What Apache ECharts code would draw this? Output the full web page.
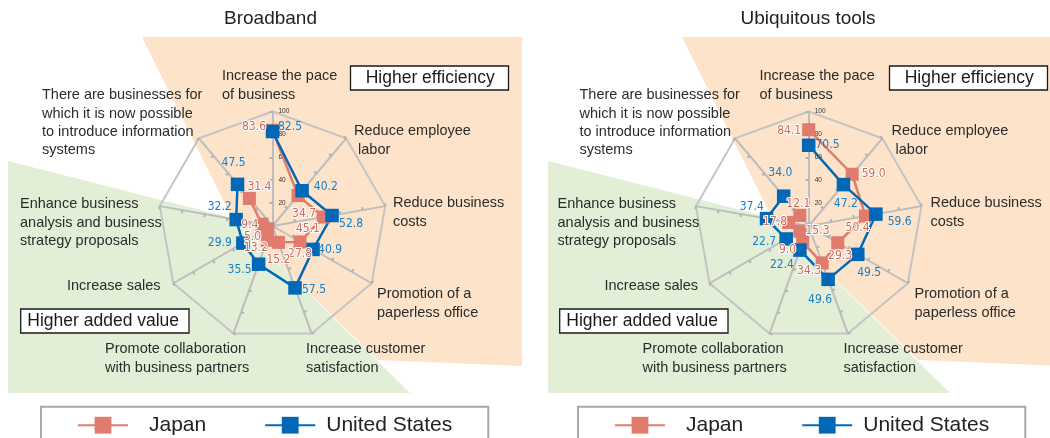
<!DOCTYPE html>
<html><head><meta charset="utf-8">
<script src="https://cdn.jsdelivr.net/npm/echarts@6/dist/echarts.min.js"></script>
<style>html,body{margin:0;padding:0;background:#fff}#c{width:1050px;height:438px}</style>
</head><body><div id="c"></div>
<script>
// ---------------- data ----------------
const categories = [
  'Increase the pace\nof business',
  'Reduce employee\n labor',
  'Reduce business\ncosts',
  'Promotion of a\npaperless office',
  'Increase customer\nsatisfaction',
  'Promote collaboration\nwith business partners',
  'Increase sales',
  'Enhance business\nanalysis and business\nstrategy proposals',
  'There are businesses for\nwhich it is now possible\nto introduce information\nsystems'
];
const panelTitles = ['Broadband', 'Ubiquitous tools'];
const seriesNames = ['Japan', 'United States'];
const broadbandJapan   = [83.6, 34.7, 45.1, 27.8, 15.2, 13.2, 5.0, 9.4, 31.4];
const broadbandUS      = [82.5, 40.2, 52.8, 40.9, 57.5, 35.5, 29.9, 32.2, 47.5];
const ubiquitousJapan  = [84.1, 59.0, 50.4, 29.3, 34.3, 15.3, 9.0, 17.8, 12.1];
const ubiquitousUS     = [70.5, 47.2, 59.6, 49.5, 49.6, 22.4, 22.7, 37.4, 34.0];
const axisTicks = [20, 40, 60, 80, 100];
const zoneLabels = ['Higher efficiency', 'Higher added value'];

// ---------------- layout / style ----------------
const FONT = '"Liberation Sans", Arial, Helvetica, sans-serif';
const NARROW = '"Liberation Sans Narrow", "Arial Narrow", "DejaVu Sans Condensed", "Liberation Sans", sans-serif';
const CENTERS = [[272.5, 226], [808.7, 226]];
const RADIUS = 114.5;
const TEXT_DX = [0, 537.5];
const BG_DX = [0, 540];
const BOX_DX = [0, 539];
const LEGEND_X = [41, 578];
const LEGEND_TEXT_PAD = [16, 6];
const NAME_POS = [[222,67],[354,122],[393,194],[377,285],[306,340],[105,340],[67,277],[20,195],[42,86]];
const LABEL_OFFSETS = [
  { japan: [[-18.5,-3.6],[6,18],[-15.5,12],[0,12],[0,17.6],[-11.5,8],[-15,8],[-12,1],[10,-11.5]],
    us:    [[17.5,-4.8],[23.7,-4],[19,8],[17,0.6],[19,2],[-19,6],[-23,0],[-16.5,-13],[-4,-21]] },
  { japan: [[-19.5,1.3],[21.6,0],[-8,12.3],[2.3,13],[-13,8],[14.8,-11.6],[-12.3,18.8],[-13.6,-0.8],[-1.5,-12]],
    us:    [[18.8,0],[2.4,19.6],[23.8,7.5],[11.4,18.5],[-8,20.6],[-18,15],[-22,2.7],[-14.8,-12],[-3.4,-23.4]] }
];
const COL = { jp:'#e07b6e', jpLabel:'#d0695c', us:'#0068b7', usLabel:'#1a7ec8',
  orange:'#fde3c9', green:'#e2efd6', axis:'#bdbdbd', text:'#2b2b2b' };

const panels = [
  { title: panelTitles[0], japan: broadbandJapan, us: broadbandUS },
  { title: panelTitles[1], japan: ubiquitousJapan, us: ubiquitousUS }
];

// ECharts places radar indicators counter-clockwise; reverse so categories read clockwise
const radarOrder = categories.map((c, i) => i === 0 ? 0 : categories.length - i);
const maxV = axisTicks[axisTicks.length - 1];

const radar = panels.map((p, k) => ({
  center: CENTERS[k], radius: RADIUS, startAngle: 90, shape: 'polygon',
  splitNumber: axisTicks.length,
  indicator: radarOrder.map(i => ({ name: categories[i], min: 0, max: maxV, axisLabel: { show: i === 0 } })),
  axisName: { show: false },
  axisLine: { lineStyle: { color: COL.axis, width: 2 } },
  axisTick: { show: true, length: 3, lineStyle: { color: '#b2b2b2', width: 2 } },
  axisLabel: { show: true, fontSize: 6.5, color: '#333', margin: -6, align: 'left', verticalAlign: 'middle',
    fontFamily: FONT, formatter: v => axisTicks.indexOf(Number(v)) >= 0 ? String(v) : '' },
  splitLine: { lineStyle: { color: ['rgba(0,0,0,0)','rgba(0,0,0,0)','rgba(0,0,0,0)','rgba(0,0,0,0)','rgba(0,0,0,0)','#c4c4c4'], width: 2 } },
  splitArea: { show: false }
}));

const polar = panels.map((p, k) => ({ center: CENTERS[k], radius: RADIUS }));
const angleAxis = panels.map((p, k) => ({ polarIndex: k, type: 'category', data: categories,
  startAngle: 90, clockwise: true, boundaryGap: false, show: false }));
const radiusAxis = panels.map((p, k) => ({ polarIndex: k, min: 0, max: maxV, show: false }));

function makeSeries(k, name, values, offsets, color, labelColor, size, halo) {
  const data = values.map((v, i) => ({ value: [v, i], label: { offset: offsets[i] } }));
  data.push({ value: [values[0], 0], symbol: 'none', label: { show: false } });
  return {
    type: 'line', name, coordinateSystem: 'polar', polarIndex: k, data,
    symbol: 'rect', symbolSize: size, showAllSymbol: true,
    lineStyle: { color, width: 2.5 }, itemStyle: { color },
    label: { show: true, position: 'inside', formatter: pr => Number(pr.value[0]).toFixed(1),
      fontFamily: NARROW, fontSize: 12, color: labelColor,
      textBorderColor: halo ? '#ffffff' : 'transparent', textBorderWidth: halo ? 2 : 0 },
    emphasis: { disabled: true }, animation: false
  };
}
const series = [];
panels.forEach((p, k) => {
  series.push(makeSeries(k, seriesNames[0], p.japan, LABEL_OFFSETS[k].japan, COL.jp, COL.jpLabel, 13, true));
  series.push(makeSeries(k, seriesNames[1], p.us, LABEL_OFFSETS[k].us, COL.us, COL.usLabel, 13.5, false));
});

const legend = panels.map((p, k) => ({
  data: seriesNames.map((n, j) => ({ name: n, textStyle: { padding: [0, 0, 0, LEGEND_TEXT_PAD[j]] } })),
  left: LEGEND_X[k], top: 406.7, orient: 'horizontal',
  itemWidth: 50, itemHeight: 21, itemGap: 58, selectedMode: false,
  borderColor: '#a8a8a8', borderWidth: 2, padding: [8, 36, 30, 36],
  textStyle: { fontSize: 21, color: '#222', fontFamily: FONT }
}));

// decorative zones, titles, category names, zone boxes
const shift = (pts, dx) => pts.map(q => [q[0] + dx, q[1]]);
const ORANGE = [[142,37],[522,37],[522,366],[378,360],[232,218]];
const GREEN = [[8,161],[232,218],[410,393],[8,393]];
const graphic = [];
panels.forEach((p, k) => {
  graphic.push({ type: 'polygon', z: -10, silent: true, shape: { points: shift(ORANGE, BG_DX[k]) }, style: { fill: COL.orange } });
  graphic.push({ type: 'polygon', z: -10, silent: true, shape: { points: shift(GREEN, BG_DX[k]) }, style: { fill: COL.green } });
  graphic.push({ type: 'text', z: 50, silent: true, style: { text: p.title, x: 270.5 + TEXT_DX[k], y: 18.5,
    align: 'center', verticalAlign: 'middle', font: '19px ' + FONT, fill: '#222' } });
  categories.forEach((c, i) => {
    graphic.push({ type: 'text', z: 50, silent: true, style: { text: c, x: NAME_POS[i][0] + TEXT_DX[k], y: NAME_POS[i][1],
      align: 'left', verticalAlign: 'top', font: '14.5px ' + FONT, lineHeight: 18.4, fill: COL.text } });
  });
  const boxes = [
    { t: zoneLabels[0], x: 350.5, y: 66, w: 158, tx: 365.7 },
    { t: zoneLabels[1], x: 20.7, y: 309, w: 168.3, tx: 27.3 }
  ];
  boxes.forEach(b => {
    graphic.push({ type: 'rect', z: 60, silent: true, shape: { x: b.x + BOX_DX[k], y: b.y, width: b.w, height: 24 },
      style: { fill: '#fff', stroke: '#1a1a1a', lineWidth: 1.3 } });
    graphic.push({ type: 'text', z: 61, silent: true, style: { text: b.t, x: b.tx + BOX_DX[k], y: b.y + 12.5,
      align: 'left', verticalAlign: 'middle', font: '17.5px ' + FONT, fill: '#1a1a1a' } });
  });
});

const chart = echarts.init(document.getElementById('c'), null, { renderer: 'canvas', width: 1050, height: 438 });
chart.setOption({
  animation: false,
  backgroundColor: '#ffffff',
  textStyle: { fontFamily: FONT },
  radar, polar, angleAxis, radiusAxis, series, legend, graphic
});
</script></body></html>
